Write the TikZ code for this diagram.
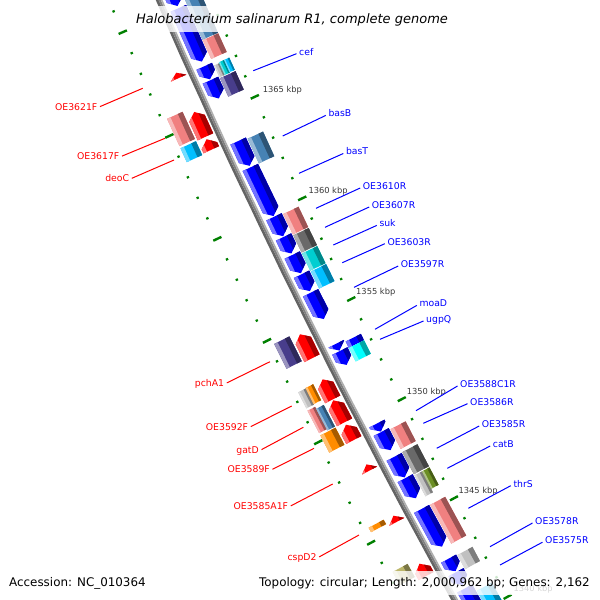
\documentclass[tikz,border=0pt]{standalone}
\usepackage{fontspec}
\setmainfont{DejaVu Sans}[ItalicFont={DejaVu Sans Oblique}]
\definecolor{cBlue}{RGB}{0,0,255}
\definecolor{cRed}{RGB}{255,0,0}
\definecolor{cPink}{RGB}{240,128,128}
\definecolor{cSteel}{RGB}{70,130,180}
\definecolor{cSlate}{RGB}{72,61,139}
\definecolor{cSky}{RGB}{0,191,255}
\definecolor{cTurq}{RGB}{0,206,209}
\definecolor{cCyan}{RGB}{0,255,255}
\definecolor{cDimGray}{RGB}{105,105,105}
\definecolor{cLGray}{RGB}{192,192,192}
\definecolor{cOlive}{RGB}{107,142,35}
\definecolor{cOrange}{RGB}{255,140,0}
\definecolor{cKhaki}{RGB}{189,183,107}
\definecolor{cTick}{RGB}{0,128,0}
\definecolor{cBbA}{RGB}{100,100,100}
\definecolor{cBbB}{RGB}{128,128,128}
\definecolor{cBbC}{RGB}{175,175,175}
\tikzset{
  blab/.style={text=cBlue, font=\fontsize{9.3}{11}\selectfont, inner sep=0pt, anchor=base west},
  rlab/.style={text=cRed, font=\fontsize{9.3}{11}\selectfont, inner sep=0pt, anchor=base east},
  bline/.style={draw=cBlue, line width=1pt},
  rline/.style={draw=cRed, line width=1pt},
  kbplab/.style={text=black!78, font=\fontsize{8.3}{10}\selectfont, inner sep=0pt, anchor=base west},
  legbox/.style={fill=white, fill opacity=0.8, text opacity=1, text=black, font=\fontsize{11.9}{14}\selectfont, inner xsep=5pt, inner ysep=5pt, text height=10.5pt, text depth=3.5pt},
  ttlbox/.style={fill=white, fill opacity=0.8, text opacity=1, text=black, font=\fontsize{13}{15}\selectfont\itshape, inner xsep=6pt, inner ysep=5.3pt, text height=12.5pt, text depth=3pt, anchor=base},
  tickline/.style={draw=cTick, line width=2.2pt},
}
% #1 colour, #2 inner radius, #3 outer radius, #4 start (w), #5 end (w), #6 0 box / 1 arrow to end / 2 arrow to start
\newcommand\gene[6]{%
  \pgfmathsetmacro\gAa{153.16-(#4)*0.0079722}%
  \pgfmathsetmacro\gAb{153.16-(#5)*0.0079722}%
  \pgfmathsetmacro\gHh{min(7,(#5)-(#4))}%
  \pgfmathsetmacro\gAbh{153.16-((#5)-\gHh)*0.0079722}%
  \pgfmathsetmacro\gAah{153.16-((#4)+\gHh)*0.0079722}%
  \pgfmathsetmacro\gRm{((#2)+(#3))/2}%
  \pgfmathsetmacro\gRl{(#3)-0.22*((#3)-(#2))}%
  \pgfmathsetmacro\gRd{(#2)+0.3*((#3)-(#2))}%
  \pgfmathsetmacro\gRa{(#2)-2}%
  \pgfmathsetmacro\gRb{(#3)+2}%
  \pgfmathsetmacro\gAaa{\gAa+0.02}%
  \pgfmathsetmacro\gAbb{\gAb-0.02}%
  \begin{scope}
    \ifcase#6\relax
      \clip (\gAa:#2) -- (\gAa:#3) -- (\gAb:#3) -- (\gAb:#2) -- cycle;
    \or
      \clip (\gAa:#2) -- (\gAa:#3) -- (\gAbh:#3) -- (\gAb:\gRm) -- (\gAbh:#2) -- cycle;
    \or
      \clip (\gAa:\gRm) -- (\gAah:#3) -- (\gAb:#3) -- (\gAb:#2) -- (\gAah:#2) -- cycle;
    \fi
    \fill[#1] (\gAaa:\gRa) -- (\gAaa:\gRb) -- (\gAbb:\gRb) -- (\gAbb:\gRa) -- cycle;
    \fill[#1!55!white] (\gAaa:\gRl) -- (\gAaa:\gRb) -- (\gAbb:\gRb) -- (\gAbb:\gRl) -- cycle;
    \fill[#1!65!black] (\gAaa:\gRa) -- (\gAaa:\gRd) -- (\gAbb:\gRd) -- (\gAbb:\gRa) -- cycle;
  \end{scope}}
\begin{document}
\begin{tikzpicture}[x=1pt,y=-1pt]
\useasboundingbox (0,0) rectangle (600,600);
\clip (0,0) rectangle (600,600);
\fill[white] (0,0) rectangle (600,600);
\begin{scope}[shift={(6746.9,-2874.2)}]
  % ticks
  \foreach \k in {1336,...,1373}{%
    \pgfmathsetmacro\ta{155.41+(\k-1365)*0.179914}%
    \pgfmathtruncatemacro\km{mod(\k,5)}%
    \ifnum\km=0
      \draw[tickline, line width=2.4pt] (\ta:7135.5) -- (\ta:7144.5);
      \draw[tickline, line width=2.4pt] (\ta:7229.5) -- (\ta:7238.5);
    \else
      \draw[tickline] (\ta:7139) -- (\ta:7141.4);
      \draw[tickline] (\ta:7233) -- (\ta:7235.4);
    \fi
  }
  % backbone
  \draw[cBbA, line width=2.6pt] plot[domain=149.8:157.3, samples=40] (\x:7189.7);
  \draw[cBbB, line width=2pt] plot[domain=149.8:157.3, samples=40] (\x:7187.4);
  \draw[cBbC, line width=1.6pt] plot[domain=149.8:157.3, samples=40] (\x:7185.6);
  % reverse strand CDS
  \gene{cBlue}{7165}{7182}{-470}{-397.5}{1}
  \gene{cBlue}{7165}{7182}{-395}{-336.6}{1}
  \gene{cBlue}{7165}{7182}{-331.3}{-317}{1}
  \gene{cBlue}{7165}{7182}{-316}{-296}{1}
  \gene{cBlue}{7165}{7182}{-249}{-221.6}{1}
  \gene{cBlue}{7165}{7182}{-219.9}{-165.8}{1}
  \gene{cBlue}{7165}{7182}{-165}{-143.5}{1}
  \gene{cBlue}{7165}{7182}{-142.6}{-124.3}{1}
  \gene{cBlue}{7165}{7182}{-122.5}{-102.3}{1}
  \gene{cBlue}{7165}{7182}{-101}{-82.2}{1}
  \gene{cBlue}{7165}{7182}{-80.4}{-50.9}{1}
  \gene{cBlue}{7165}{7182}{-23.2}{-15.6}{1}
  \gene{cBlue}{7165}{7182}{-15.1}{0.5}{1}
  \gene{cBlue}{7165}{7182}{66.7}{75.7}{1}
  \gene{cBlue}{7165}{7182}{76.1}{96.7}{1}
  \gene{cBlue}{7165}{7182}{104.3}{127.5}{1}
  \gene{cBlue}{7165}{7182}{128.5}{151.2}{1}
  \gene{cBlue}{7165}{7182}{163.3}{206.3}{1}
  \gene{cBlue}{7165}{7182}{220.1}{234.5}{1}
  \gene{cBlue}{7165}{7182}{235.5}{250}{1}
  \gene{cBlue}{7165}{7182}{254}{300}{1}
  % reverse strand COG
  \gene{cSteel}{7147}{7164}{-470}{-356.5}{0}
  \gene{cPink}{7147}{7164}{-355.8}{-335.2}{0}
  \gene{cLGray}{7158.3}{7164}{-328}{-315}{0}
  \gene{cTurq}{7152.7}{7158.3}{-329}{-315}{0}
  \gene{cSky}{7147}{7152.7}{-329}{-315.5}{0}
  \gene{cSlate}{7147}{7164}{-314}{-293.6}{0}
  \gene{cSteel}{7147}{7164}{-247.1}{-219.9}{0}
  \gene{cPink}{7147}{7164}{-163.5}{-140.8}{0}
  \gene{cDimGray}{7147}{7164}{-139.8}{-120.6}{0}
  \gene{cTurq}{7147}{7164}{-119.6}{-100.5}{0}
  \gene{cSky}{7147}{7164}{-99.5}{-80.3}{0}
  \gene{cBlue}{7147}{7164}{-20.9}{-13.9}{0}
  \gene{cCyan}{7147}{7164}{-13.7}{1.5}{0}
  \gene{cPink}{7147}{7164}{78}{100.3}{0}
  \gene{cDimGray}{7147}{7164}{103.9}{128.9}{0}
  \gene{cLGray}{7155.5}{7164}{130.3}{154}{0}
  \gene{cOlive}{7147}{7155.5}{130.3}{150}{0}
  \gene{cPink}{7147}{7164}{163.8}{208.1}{0}
  \gene{cLGray}{7147}{7164}{221.1}{237.2}{0}
  \gene{cSky}{7147}{7164}{262}{300}{0}
  % forward strand CDS
  \gene{cRed}{7193}{7210}{-337}{-331}{2}
  \gene{cRed}{7193}{7210}{-293.8}{-266.6}{2}
  \gene{cRed}{7193}{7210}{-263.9}{-252.3}{2}
  \gene{cRed}{7193}{7210}{-47.9}{-21.1}{2}
  \gene{cRed}{7193}{7210}{2.5}{25}{2}
  \gene{cRed}{7193}{7210}{26}{50.6}{2}
  \gene{cRed}{7193}{7210}{53.5}{70.6}{2}
  \gene{cRed}{7193}{7210}{98}{105}{2}
  \gene{cRed}{7193}{7210}{156}{163}{2}
  \gene{cRed}{7193}{7210}{210.6}{224.5}{2}
  % forward strand COG
  \gene{cPink}{7212}{7229}{-298.8}{-268.9}{0}
  \gene{cSky}{7212}{7229}{-266.6}{-251.4}{0}
  \gene{cSlate}{7212}{7229}{-50.7}{-23}{0}
  \gene{cLGray}{7220.5}{7229}{3}{21}{0}
  \gene{cOrange}{7212}{7220.5}{2.6}{20.4}{0}
  \gene{cPink}{7220.5}{7229}{23.5}{48.6}{0}
  \gene{cSteel}{7212}{7220.5}{25.8}{50}{0}
  \gene{cOrange}{7212}{7229}{51.3}{70.5}{0}
  \gene{cOrange}{7212}{7229}{155}{160}{0}
  \gene{cKhaki}{7212}{7229}{205.1}{219.9}{0}
\end{scope}
% kbp labels
\node[kbplab] (k1365) at (262.7,92.5) {1365 kbp};
\node[kbplab] (k1360) at (308.3,193.5) {1360 kbp};
\node[kbplab] (k1355) at (356,294) {1355 kbp};
\node[kbplab] (k1350) at (406.7,394) {1350 kbp};
\node[kbplab] (k1345) at (458.3,493.3) {1345 kbp};
\node[kbplab] (k1340) at (513.3,591) {1340 kbp};
% reverse strand labels
\coordinate (pcef) at (253.3,70.7);
\coordinate (pbasB) at (282.7,136);
\coordinate (pbasT) at (299,173.3);
\coordinate (pOE3610R) at (316,208.3);
\coordinate (pOE3607R) at (325,227.3);
\coordinate (psuk) at (333.3,245);
\coordinate (pOE3603R) at (342.3,262.7);
\coordinate (pOE3597R) at (354,287.3);
\coordinate (pmoaD) at (375,329.3);
\coordinate (pugpQ) at (380,339.3);
\coordinate (pOE3588C1R) at (416,410.7);
\coordinate (pOE3586R) at (423.3,423.3);
\coordinate (pOE3585R) at (436.7,448.3);
\coordinate (pcatB) at (447.3,468.3);
\coordinate (pthrS) at (468.3,508.3);
\coordinate (pOE3578R) at (490,546.7);
\coordinate (pOE3575R) at (500,565);
\node[blab] (lcef) at (299,55) {cef};
\node[blab] (lbasB) at (328.3,116.7) {basB};
\node[blab] (lbasT) at (345.8,154.8) {basT};
\node[blab] (lOE3610R) at (362.7,189.3) {OE3610R};
\node[blab] (lOE3607R) at (371.7,208.3) {OE3607R};
\node[blab] (lsuk) at (379.3,226.7) {suk};
\node[blab] (lOE3603R) at (387.3,245) {OE3603R};
\node[blab] (lOE3597R) at (400.7,267.3) {OE3597R};
\node[blab] (lmoaD) at (419.3,306.7) {moaD};
\node[blab] (lugpQ) at (426,322.3) {ugpQ};
\node[blab] (lOE3588C1R) at (460,387.3) {OE3588C1R};
\node[blab] (lOE3586R) at (470,405) {OE3586R};
\node[blab] (lOE3585R) at (481.7,427.3) {OE3585R};
\node[blab] (lcatB) at (492.7,447.3) {catB};
\node[blab] (lthrS) at (513.3,487) {thrS};
\node[blab] (lOE3578R) at (535,524.3) {OE3578R};
\node[blab] (lOE3575R) at (545,543.5) {OE3575R};
\foreach \n in {cef,basB,basT,OE3610R,OE3607R,suk,OE3603R,OE3597R,moaD,ugpQ,OE3588C1R,OE3586R,OE3585R,catB,thrS,OE3578R,OE3575R}{
  \draw[bline] (p\n) -- ([xshift=-2.5pt,yshift=1.3pt]l\n.base west);
}
% forward strand labels
\coordinate (pOE3621F) at (142.7,88.3);
\coordinate (pOE3617F) at (165,138.3);
\coordinate (pdeoC) at (174,160);
\coordinate (ppchA1) at (270,361.7);
\coordinate (pOE3592F) at (291.7,406);
\coordinate (pgatD) at (303.3,427.3);
\coordinate (pOE3589F) at (314,448.3);
\coordinate (pOE3585A1F) at (332.7,484);
\coordinate (pcspD2) at (359,535);
\node[rlab] (lOE3621F) at (97.5,110) {OE3621F};
\node[rlab] (lOE3617F) at (119.5,159.5) {OE3617F};
\node[rlab] (ldeoC) at (129.3,181.7) {deoC};
\node[rlab] (lpchA1) at (224.3,386.3) {pchA1};
\node[rlab] (lOE3592F) at (248.3,430) {OE3592F};
\node[rlab] (lgatD) at (259,453) {gatD};
\node[rlab] (lOE3589F) at (270,472.7) {OE3589F};
\node[rlab] (lOE3585A1F) at (288.3,509.3) {OE3585A1F};
\node[rlab] (lcspD2) at (316.7,560.3) {cspD2};
\foreach \n in {OE3621F,OE3617F,deoC,pchA1,OE3592F,gatD,OE3589F,OE3585A1F,cspD2}{
  \draw[rline] ([xshift=2.5pt,yshift=3.4pt]l\n.base east) -- (p\n);
}
% title and legend
\node[ttlbox] (title) at (292,23.3) {Halobacterium salinarum R1, complete genome};
\node[legbox, anchor=base west] (acc) at (4,586.5) {Accession: NC\_010364};
\node[legbox, anchor=base east] (topo) at (595,586.5) {Topology: circular; Length: 2,000,962 bp; Genes: 2,162};
\end{tikzpicture}
\end{document}
